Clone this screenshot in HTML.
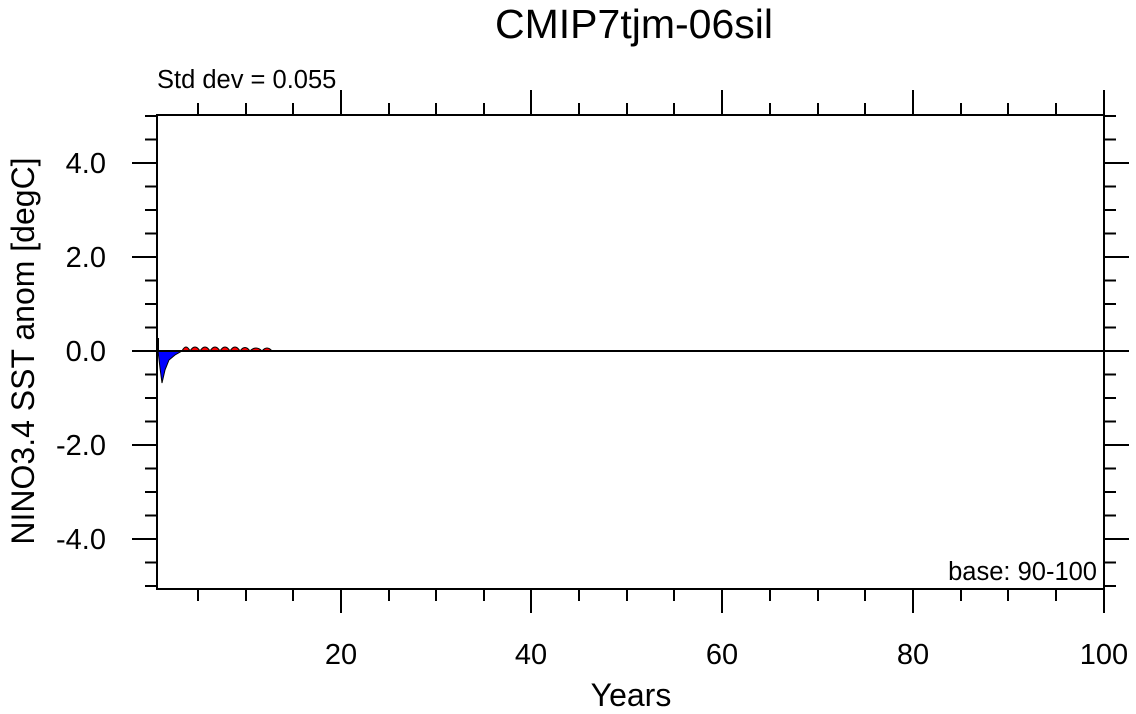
<!DOCTYPE html>
<html><head><style>body{margin:0;background:#fff}svg{display:block}text{font-family:"Liberation Sans",sans-serif;fill:#000}</style></head>
<body>
<svg width="1136" height="714" viewBox="0 0 1136 714" xmlns="http://www.w3.org/2000/svg">
<text x="634" y="38" font-size="41" text-anchor="middle">CMIP7tjm-06sil</text>
<text x="157" y="88" font-size="25.5">Std dev = 0.055</text>
<text x="1097" y="580" font-size="25.5" text-anchor="end">base: 90-100</text>
<g font-size="29" text-anchor="end">
<text x="106" y="173">4.0</text><text x="106" y="267">2.0</text><text x="106" y="361">0.0</text><text x="106" y="455">-2.0</text><text x="106" y="549">-4.0</text>
</g>
<g font-size="29" text-anchor="middle">
<text x="341" y="664">20</text><text x="531" y="664">40</text><text x="722" y="664">60</text><text x="913" y="664">80</text><text x="1104" y="664">100</text>
</g>
<text x="631" y="706" font-size="32" text-anchor="middle">Years</text>
<text transform="translate(34,351) rotate(-90)" font-size="32" text-anchor="middle">NINO3.4 SST anom [degC]</text>
<path d="M158,351 L160,368 L162,383 L165,370 L169,360 L175,355 L182,351 Z" fill="#0000ff" stroke="#000" stroke-width="1"/>
<path d="M182,351 Q186,343 190,351 Q195,343 200,351 Q205,343 210,351 Q215,343 220,351 Q225,343 230,351 Q235,343 240,351 Q245,344 250,351 Q256,345 262,351 Q267,345 272,351 Z" fill="#ff0000" stroke="#000" stroke-width="1"/>
<path d="M158,338 L158,351 M157,351 L1104,351" stroke="#000" stroke-width="2" fill="none"/>
<rect x="157" y="115" width="947" height="474" fill="none" stroke="#000" stroke-width="2"/>
<g stroke="#000" stroke-width="2">
<path d="M132,163H157M132,257H157M132,351H157M132,445H157M132,539H157M1104,163H1129M1104,257H1129M1104,351H1129M1104,445H1129M1104,539H1129"/>
<path d="M145,139.5H157M145,186.5H157M145,210H157M145,233.5H157M145,280.5H157M145,304H157M145,327.5H157M145,374.5H157M145,398H157M145,421.5H157M145,468.5H157M145,492H157M145,515.5H157M145,562.5H157M145,116H157M145,586H157M1104,139.5H1116M1104,186.5H1116M1104,210H1116M1104,233.5H1116M1104,280.5H1116M1104,304H1116M1104,327.5H1116M1104,374.5H1116M1104,398H1116M1104,421.5H1116M1104,468.5H1116M1104,492H1116M1104,515.5H1116M1104,562.5H1116M1104,116H1116M1104,586H1116"/>
<path d="M341,589V613M531,589V613M722,589V613M913,589V613M1104,589V613M341,115V90M531,115V90M722,115V90M913,115V90M1104,115V90"/>
<path d="M198,589V601M246,589V601M293,589V601M389,589V601M436,589V601M484,589V601M579,589V601M627,589V601M674,589V601M770,589V601M818,589V601M865,589V601M961,589V601M1008,589V601M1056,589V601M198,115V103M246,115V103M293,115V103M389,115V103M436,115V103M484,115V103M579,115V103M627,115V103M674,115V103M770,115V103M818,115V103M865,115V103M961,115V103M1008,115V103M1056,115V103"/>
</g>
</svg>
</body></html>
